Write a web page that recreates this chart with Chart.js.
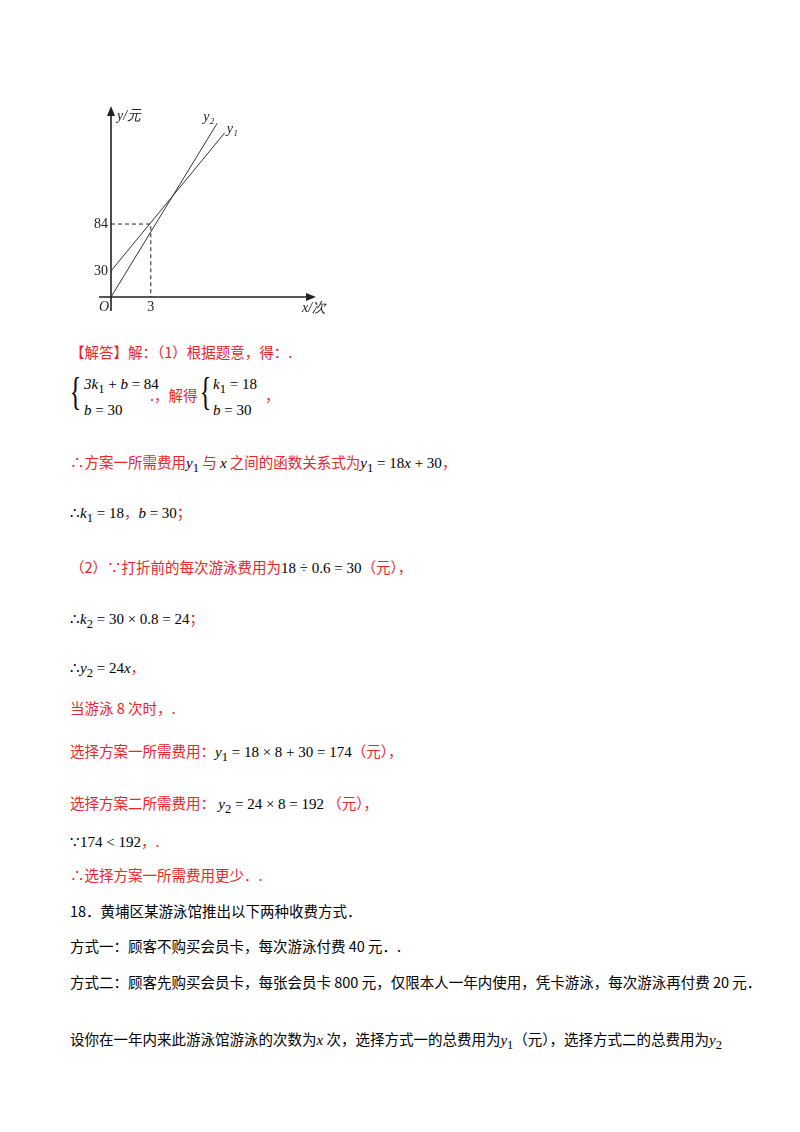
<!DOCTYPE html>
<html><head><meta charset="utf-8">
<script src="https://cdn.jsdelivr.net/npm/chart.js@4/dist/chart.umd.min.js"></script>
<style>
body{margin:0;background:#fff;width:800px;height:1132px;position:relative;font-family:"Noto Sans CJK SC",sans-serif;font-size:14.5px;}
.l{position:absolute;left:70px;white-space:nowrap;color:#e8262b;}
.m{color:#000;font-family:"Liberation Serif",serif;font-size:15px;}
.k{color:#000;}
.br{position:absolute;font-family:"Liberation Serif",serif;font-size:40px;line-height:40px;color:#000;transform:scaleX(0.6);}
#wrap{position:absolute;left:80px;top:100px;width:260px;height:220px;}
</style></head><body>
<div id="wrap"><canvas id="c"></canvas></div>
<div class="l" style="top:341px">【解答】解：（1）根据题意，得：.</div>
<div class="br" style="top:372px;left:66px">{</div>
<div class="l m" style="top:374px;left:84px;line-height:21px"><i>3k</i><sub>1</sub> + <i>b</i> = 84<br><i>b</i> = 30</div>
<div class="l" style="top:384px;left:150px">.，解得</div>
<div class="br" style="top:372px;left:196px">{</div>
<div class="l m" style="top:374px;left:213px;line-height:21px"><i>k</i><sub>1</sub> = 18<br><i>b</i> = 30</div>
<div class="l" style="top:384px;left:265px">，</div>
<div class="l" style="top:451px">∴方案一所需费用<span class="m"><i>y</i><sub>1</sub></span> 与 <span class="m"><i>x</i></span> 之间的函数关系式为<span class="m"><i>y</i><sub>1</sub> = 18<i>x</i> + 30</span>，</div>
<div class="l" style="top:501px"><span class="m">∴<i>k</i><sub>1</sub> = 18</span>，<span class="m"><i>b</i> = 30</span>；</div>
<div class="l" style="top:556px">（2）∵打折前的每次游泳费用为<span class="m">18 ÷ 0.6 = 30</span>（元），</div>
<div class="l" style="top:607px"><span class="m">∴<i>k</i><sub>2</sub> = 30 × 0.8 = 24</span>；</div>
<div class="l" style="top:656px"><span class="m">∴<i>y</i><sub>2</sub> = 24<i>x</i></span>，</div>
<div class="l" style="top:697px">当游泳 8 次时，.</div>
<div class="l" style="top:740px">选择方案一所需费用：<span class="m"><i>y</i><sub>1</sub> = 18 × 8 + 30 = 174</span>（元），</div>
<div class="l" style="top:792px">选择方案二所需费用：&nbsp;<span class="m"><i>y</i><sub>2</sub> = 24 × 8 = 192</span>&nbsp;（元），</div>
<div class="l" style="top:830px"><span class="m">∵174 &lt; 192</span>，.</div>
<div class="l" style="top:864px">∴选择方案一所需费用更少．.</div>
<div class="l k" style="top:900px">18．黄埔区某游泳馆推出以下两种收费方式．</div>
<div class="l k" style="top:935px">方式一：顾客不购买会员卡，每次游泳付费 40 元．.</div>
<div class="l k" style="top:971px">方式二：顾客先购买会员卡，每张会员卡 800 元，仅限本人一年内使用，凭卡游泳，每次游泳再付费 20 元．</div>
<div class="l k" style="top:1028px">设你在一年内来此游泳馆游泳的次数为<span class="m"><i>x</i></span> 次，选择方式一的总费用为<span class="m"><i>y</i><sub>1</sub></span>（元），选择方式二的总费用为<span class="m"><i>y</i><sub>2</sub></span></div>
<script>
const xLabels = [3];
const yLabels = [30, 84];
const y1Points = [{x: 0, y: 30}, {x: 8.57, y: 189}];
const y2Points = [{x: 0, y: 0}, {x: 8.0, y: 200}];
const guide = {x: 3, y: 84};

const axes = {
  id: 'axes',
  afterDraw(chart) {
    const {ctx, scales: {x, y}} = chart;
    const ox = x.getPixelForValue(0), oy = y.getPixelForValue(0);
    const xe = x.getPixelForValue(15), ye = y.getPixelForValue(213);
    ctx.save();
    ctx.strokeStyle = '#222'; ctx.fillStyle = '#222'; ctx.lineWidth = 1.6;
    ctx.beginPath(); ctx.moveTo(ox - 12, oy); ctx.lineTo(xe, oy); ctx.moveTo(ox, oy + 14); ctx.lineTo(ox, ye); ctx.stroke();
    ctx.beginPath(); ctx.moveTo(xe + 6, oy); ctx.lineTo(xe - 4, oy - 4); ctx.lineTo(xe - 4, oy + 4); ctx.fill();
    ctx.beginPath(); ctx.moveTo(ox, ye - 6); ctx.lineTo(ox - 4, ye + 4); ctx.lineTo(ox + 4, ye + 4); ctx.fill();
    // dashed guides
    const gx = x.getPixelForValue(guide.x), gy = y.getPixelForValue(guide.y);
    ctx.lineWidth = 1; ctx.setLineDash([4, 3]);
    ctx.beginPath(); ctx.moveTo(ox, gy); ctx.lineTo(gx, gy); ctx.lineTo(gx, oy); ctx.stroke();
    ctx.setLineDash([]);
    ctx.font = '14px "Liberation Serif", serif';
    ctx.textAlign = 'right'; ctx.textBaseline = 'middle';
    yLabels.forEach(v => ctx.fillText(v, ox - 3, y.getPixelForValue(v)));
    ctx.textAlign = 'center'; ctx.textBaseline = 'top';
    xLabels.forEach(v => ctx.fillText(v, x.getPixelForValue(v), oy + 3));
    ctx.font = 'italic 14px "Liberation Serif", serif';
    ctx.fillText('O', ox - 7, oy + 3);
    ctx.textAlign = 'left';
    ctx.fillText('x/次', xe - 8, oy + 4);
    ctx.textBaseline = 'middle';
    ctx.fillText('y/元', ox + 6, ye + 4);
    const e1 = y1Points[1], e2 = y2Points[1];
    ctx.fillText('y₁', x.getPixelForValue(e1.x) + 2, y.getPixelForValue(e1.y) - 4);
    ctx.fillText('y₂', x.getPixelForValue(e2.x) - 14, y.getPixelForValue(e2.y) - 6);
    ctx.restore();
  }
};

new Chart(document.getElementById('c'), {
  type: 'scatter',
  data: {
    datasets: [
      {label: 'y1', data: y1Points, showLine: true, borderColor: '#333', borderWidth: 1, pointRadius: 0},
      {label: 'y2', data: y2Points, showLine: true, borderColor: '#333', borderWidth: 1, pointRadius: 0}
    ]
  },
  options: {
    responsive: true, maintainAspectRatio: false, animation: false,
    layout: {padding: {left: 31, right: 30, top: 12, bottom: 23}},
    plugins: {legend: {display: false}, tooltip: {enabled: false}},
    scales: {
      x: {type: 'linear', min: 0, max: 15, display: false},
      y: {type: 'linear', min: 0, max: 213, display: false}
    }
  },
  plugins: [axes]
});
</script>
</body></html>
